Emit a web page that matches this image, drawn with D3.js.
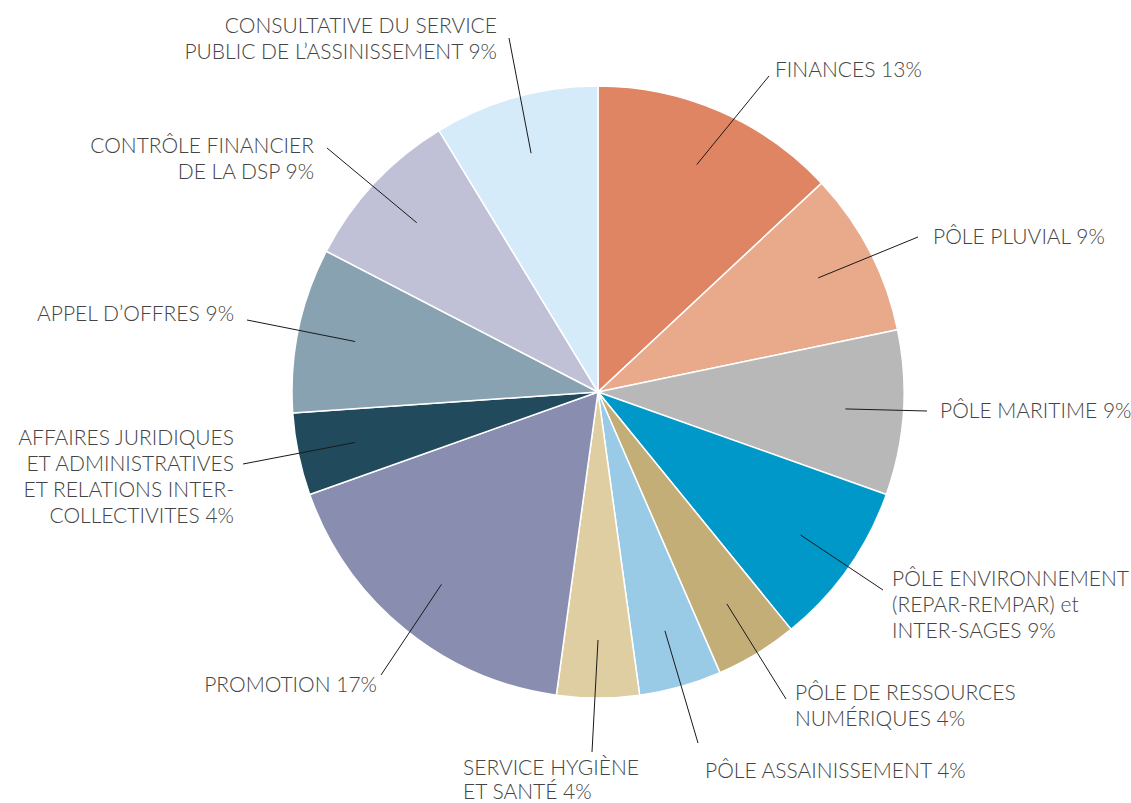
<!DOCTYPE html>
<html>
<head>
<meta charset="utf-8">
<script src="https://cdn.jsdelivr.net/npm/d3@7"></script>
<style>
  html, body { margin: 0; padding: 0; background: #fff; }
  svg text { font-family: "Lato", "Open Sans", sans-serif; font-size: 21px; font-weight: 300; fill: #444; }
</style>
</head>
<body>
<div id="chart"></div>
<script>
// slices, clockwise from 12 o'clock
const categories = [
    "Finances", "Pôle pluvial", "Pôle maritime", "Pôle environnement",
    "Pôle de ressources numériques", "Pôle assainissement", "Service hygiène et santé",
    "Promotion", "Affaires juridiques", "Appel d'offres", "Contrôle financier",
    "Consultative du service public"
];
const values = [3, 2, 2, 2, 1, 1, 1, 4, 1, 2, 2, 2];
const percentLabels = ["13%", "9%", "9%", "9%", "4%", "4%", "4%", "17%", "4%", "9%", "9%", "9%"];
const labelLines = [
    ["FINANCES 13%"],
    ["PÔLE PLUVIAL 9%"],
    ["PÔLE MARITIME 9%"],
    ["PÔLE ENVIRONNEMENT", "(REPAR-REMPAR) et", "INTER-SAGES 9%"],
    ["PÔLE DE RESSOURCES", "NUMÉRIQUES 4%"],
    ["PÔLE ASSAINISSEMENT 4%"],
    ["SERVICE HYGIÈNE", "ET SANTÉ 4%"],
    ["PROMOTION 17%"],
    ["AFFAIRES JURIDIQUES", "ET ADMINISTRATIVES", "ET RELATIONS INTER-", "COLLECTIVITES 4%"],
    ["APPEL D’OFFRES 9%"],
    ["CONTRÔLE FINANCIER", "DE LA DSP 9%"],
    ["CONSULTATIVE DU SERVICE", "PUBLIC DE L’ASSINISSEMENT 9%"]
];
const colors = [
    "#e08563", "#e9a98b", "#b8b8b8", "#0098c9", "#c4ae78", "#99cae6",
    "#decea1", "#898eb0", "#214b5c", "#88a2b2", "#c0c1d6", "#d5ebfa"
];

// label placement: leader end point, text anchor, first baseline
const labelLayout = [
    { lx: 769, ly: 76,  tx: 775, ty: 77,  anchor: "start" },
    { lx: 918, ly: 237, tx: 933, ty: 244, anchor: "start" },
    { lx: 927, ly: 411, tx: 940, ty: 418, anchor: "start" },
    { lx: 883, ly: 590, tx: 892, ty: 586, anchor: "start" },
    { lx: 786, ly: 699, tx: 795, ty: 700, anchor: "start" },
    { lx: 698, ly: 743, tx: 705, ty: 778, anchor: "start" },
    { lx: 592, ly: 752, tx: 463, ty: 775, anchor: "start", lh: 24 },
    { lx: 381, ly: 675, tx: 377, ty: 692, anchor: "end" },
    { lx: 243, ly: 464, tx: 234, ty: 445, anchor: "end" },
    { lx: 247, ly: 320, tx: 234, ty: 321, anchor: "end" },
    { lx: 327, ly: 148, tx: 314, ty: 153, anchor: "end" },
    { lx: 509, ly: 38,  tx: 497, ty: 33,  anchor: "end" }
];

const width = 1131, height = 803;
const cx = 598, cy = 392, radius = 306;
const lineHeight = 26;

const svg = d3.select("#chart")
    .append("svg")
    .attr("width", width)
    .attr("height", height);

const g = svg.append("g")
    .attr("transform", `translate(${cx},${cy})`);

const data = categories.map((c, i) => ({ name: c, value: values[i], i: i }));

const pie = d3.pie()
    .value(d => d.value)
    .sort(null);

const arc = d3.arc()
    .innerRadius(0)
    .outerRadius(radius);

const innerArc = d3.arc()
    .innerRadius(248)
    .outerRadius(248);

const arcs = pie(data);

g.selectAll("path.slice")
    .data(arcs)
    .enter()
    .append("path")
    .attr("class", "slice")
    .attr("d", arc)
    .attr("fill", d => colors[d.data.i])
    .attr("stroke", "#fff")
    .attr("stroke-width", 1.5);

// leader lines
g.selectAll("line.leader")
    .data(arcs)
    .enter()
    .append("line")
    .attr("class", "leader")
    .attr("x1", d => innerArc.centroid(d)[0])
    .attr("y1", d => innerArc.centroid(d)[1])
    .attr("x2", d => labelLayout[d.data.i].lx - cx)
    .attr("y2", d => labelLayout[d.data.i].ly - cy)
    .attr("stroke", "#1a1a1a")
    .attr("stroke-width", 1);

// labels
const labels = svg.selectAll("text.label")
    .data(data)
    .enter()
    .append("text")
    .attr("class", "label")
    .attr("text-anchor", d => labelLayout[d.i].anchor);

labels.selectAll("tspan")
    .data(d => labelLines[d.i].map((t, k) => ({ t: t, k: k, pos: labelLayout[d.i] })))
    .enter()
    .append("tspan")
    .attr("x", d => d.pos.tx)
    .attr("y", d => d.pos.ty + d.k * (d.pos.lh || lineHeight))
    .text(d => d.t);
</script>
</body>
</html>
